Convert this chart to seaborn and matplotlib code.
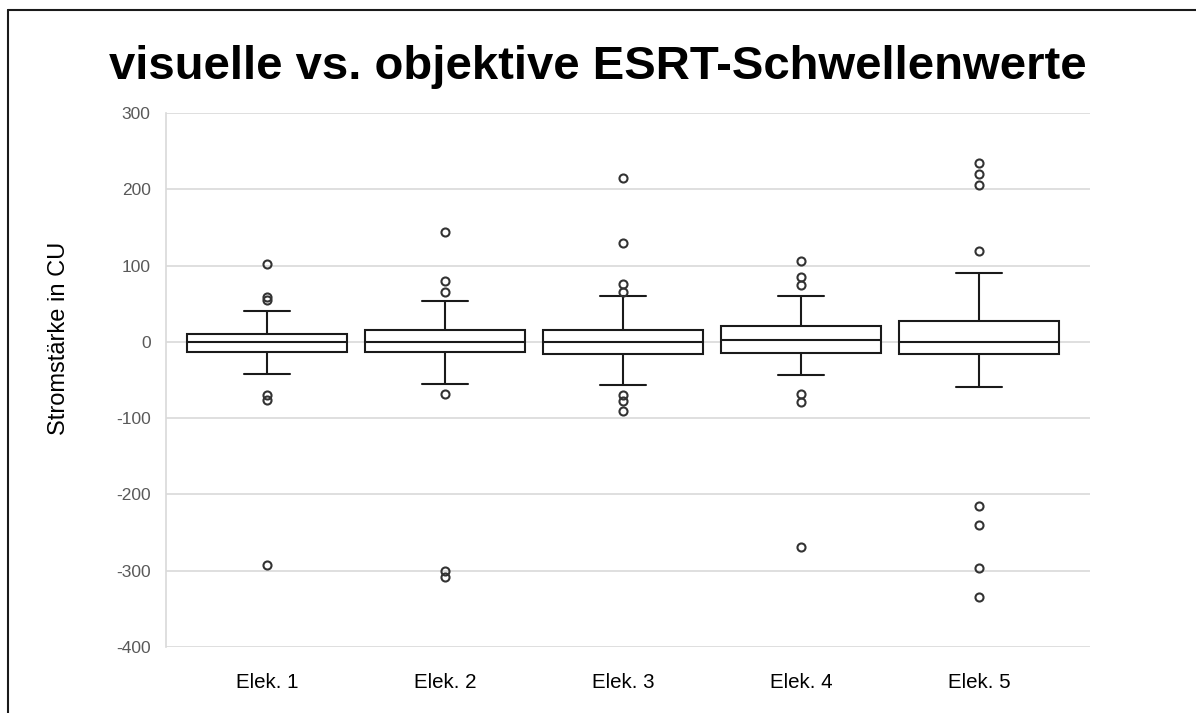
import matplotlib
matplotlib.use("Agg")
import matplotlib.pyplot as plt
from matplotlib.lines import Line2D
import seaborn as sns
import pandas as pd

# ---- data (values in CU) ----
categories = ["Elek. 1", "Elek. 2", "Elek. 3", "Elek. 4", "Elek. 5"]
q1 = [-12.7, -13.0, -15.3, -14.0, -16.5]
median = [0.0, 0.0, 0.0, 2.2, 0.0]
q3 = [10.0, 15.5, 15.4, 20.2, 27.6]
whisker_low = [-41.5, -55.0, -56.0, -43.7, -59.5]
whisker_high = [40.7, 53.8, 60.4, 60.4, 90.0]
outliers_low = [
    [-70, -76, -292],
    [-68, -300, -308],
    [-70, -77, -90],
    [-69, -79, -269],
    [-215, -240, -297, -335],
]
outliers_high = [
    [55, 59, 102],
    [65, 80, 144],
    [65, 76, 130, 215],
    [74, 85, 106],
    [119, 205, 220, 235],
]
yticks = [-400, -300, -200, -100, 0, 100, 200, 300]

# ---- build samples whose quartiles/whiskers/outliers equal the read values ----
rows = []
for i, cat in enumerate(categories):
    vals = (outliers_low[i] + [whisker_low[i]] + [q1[i]] * 20 + [median[i]] * 5
            + [q3[i]] * 20 + [whisker_high[i]] + outliers_high[i])
    rows += [(cat, v) for v in vals]
df = pd.DataFrame(rows, columns=["Elektrode", "Wert"])

sns.set_theme(style="white")
plt.rcParams["font.family"] = ["Liberation Sans", "DejaVu Sans"]

fig = plt.figure(figsize=(11.96, 7.13), dpi=100)
ax = fig.add_axes([166 / 1196, 1 - 647 / 713, (1090 - 166) / 1196, (647 - 113) / 713])

sns.boxplot(
    data=df, x="Elektrode", y="Wert", order=categories, ax=ax,
    color="white", linecolor="#1a1a1a", linewidth=1.5, width=0.9, whis=1.5,
    capwidths=0.26,
    flierprops=dict(marker="o", markersize=5.8, markerfacecolor="none",
                    markeredgecolor="#333333", markeredgewidth=1.5),
)

ax.set_ylim(-400, 300)
ax.set_xlim((166 - 267) / 178, (1090 - 267) / 178)
ax.set_yticks(yticks)
ax.set_yticklabels([str(t) for t in yticks])
ax.yaxis.grid(True, color="#d9d9d9", linewidth=1.2)
ax.set_axisbelow(True)
for s in ["top", "right", "bottom"]:
    ax.spines[s].set_visible(False)
ax.spines["left"].set_color("#d9d9d9")
ax.spines["left"].set_linewidth(1.2)
ax.tick_params(axis="y", length=0, pad=11, labelsize=12.5, labelcolor="#595959")
ax.tick_params(axis="x", length=0, pad=19, labelsize=14.8, labelcolor="black")
ax.set_xlabel("")
ax.set_ylabel("Stromstärke in CU", fontsize=17, color="black")
ax.yaxis.set_label_coords((70 - 166) / 924, (647 - 338) / 534)

fig.text(0.4995, 1 - 67 / 713, "visuelle vs. objektive ESRT-Schwellenwerte",
         ha="center", va="center", fontsize=34, fontweight="bold", color="black")

# outer frame lines (top and left)
fig.add_artist(Line2D([8 / 1196, 1.0], [1 - 10 / 713, 1 - 10 / 713],
                      color="#1a1a1a", linewidth=1.5, transform=fig.transFigure))
fig.add_artist(Line2D([8 / 1196, 8 / 1196], [0.0, 1 - 10 / 713],
                      color="#1a1a1a", linewidth=1.5, transform=fig.transFigure))

fig.savefig("out.png", dpi=100, facecolor="white")
